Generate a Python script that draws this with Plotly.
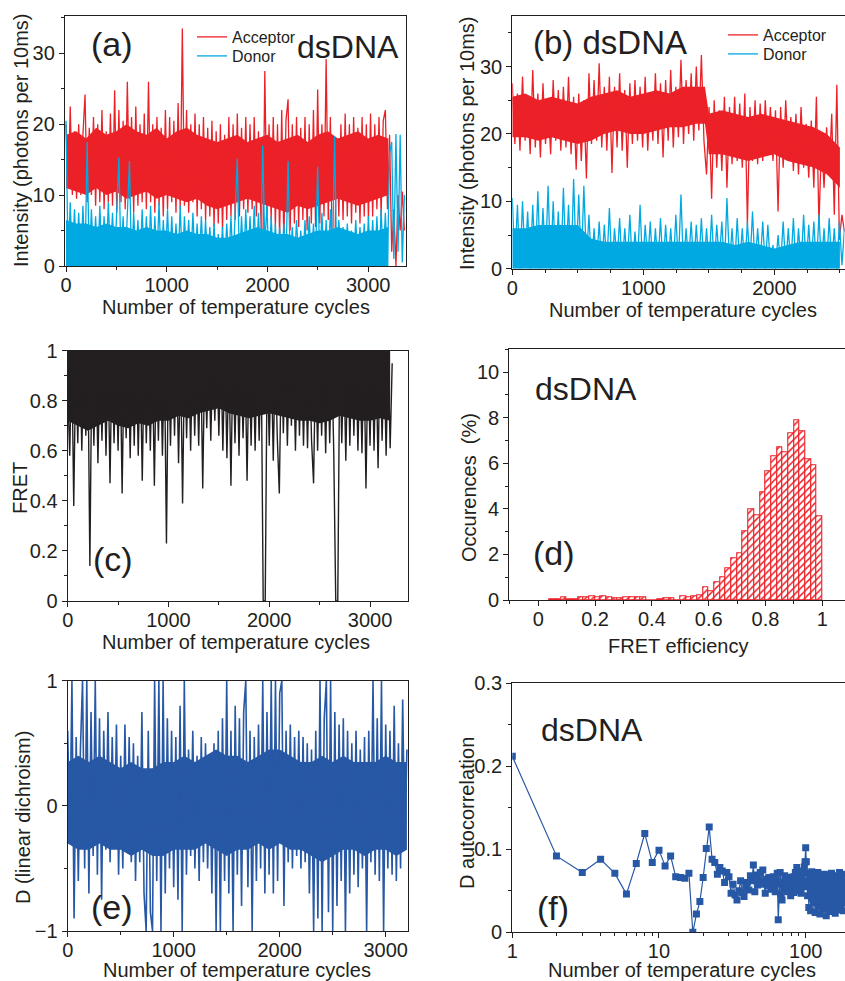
import numpy as np
import plotly.graph_objects as go

# (a) dsDNA intensity traces, one value every 21 cycles
step_a = 21
acceptor_a = [20, 11, 22.5, 10, 19, 9.5, 20, 10, 18.5, 24.2, 9, 19.5, 10, 21, 8.5, 20, 9, 22, 8, 19,
              9, 21.5, 8.5, 24.8, 7.5, 22, 9, 20.5, 8, 26, 9.5, 21, 7.5, 22.5, 8.5, 20, 9, 21.5, 8, 26,
              9, 20, 7.5, 21, 8.5, 19.5, 7, 22, 8, 21, 9, 20.5, 7.5, 23, 8, 33.5, 8.5, 22, 7.5, 20,
              9, 21.5, 7, 20, 8, 21, 6.5, 19.5, 7, 20.5, 5.5, 19, 6, 20, 5, 18.5, 6.5, 21, 7, 20,
              6.5, 21.5, 7, 19.5, 8, 21, 7.5, 20, 8, 21, 7, 19, 8, 0, 27.5, 7, 20, 6.5, 21, 5.5,
              20, 4, 22, 3, 20.5, 23.5, 5, 20, 6, 21, 5.5, 19.5, 6.5, 21, 5, 20, 6, 22, 5.5, 24.9,
              6, 20, 7, 29.2, 6.5, 21, 0, 0, 18, 7, 20, 6.5, 21.5, 7, 20, 6, 21, 7.5, 19.5, 6,
              21, 7, 20, 6.5, 21.5, 7, 20, 8, 21, 7, 20.5, 22, 8, 18.5, 2, 8, 0, 10, 5, 10.5, 5]
donor_a = [20.5, 0.5, 9, 0, 8, 1, 7.5, 0, 8.5, 0.5, 17.5, 0, 8, 1, 7, 0, 8.5, 0.5, 7, 0,
           9, 1.5, 7.5, 0, 8, 15.3, 0.5, 7, 0, 8, 14.8, 0, 7.5, 1, 6.5, 0, 8, 0.5, 7, 0,
           8.5, 0, 7, 1, 9, 0, 6.5, 0.5, 8, 0, 7, 0.5, 6, 0, 8.5, 0, 7, 1, 6.5, 0,
           7.5, 0.5, 6, 0, 7, 0.5, 6.5, 0, 5.5, 0.5, 6, 0, 4.5, 0.5, 5.5, 0, 6, 0.5, 7, 0,
           6.5, 15.2, 0, 7, 0.5, 8, 0, 7, 0.5, 8.5, 0, 7.5, 0.5, 17, 3, 8.5, 0, 7, 0.5, 6,
           0, 5.5, 0.5, 6, 0, 14.8, 0.5, 5.5, 0, 6.5, 0.5, 5, 0, 6.5, 0.5, 7, 0, 6, 0.5, 14,
           0, 7.5, 0.5, 6.5, 0, 8, 0.5, 18.3, 0, 6.5, 0.5, 5.5, 0, 6, 0.5, 5, 0, 6.5, 0.5, 5.5,
           0, 6, 0.5, 7, 0, 6.5, 0.5, 7, 0, 8, 0.5, 7.5, 0, 15.8, 17.5, 1, 18.6, 2, 18.5, 0.5, 10]
# dense core of the (a) traces, read every 100 cycles
core_x_a = list(range(0, 3201, 100))
acceptor_core_hi_a = [18.5, 19, 18, 19.5, 18.5, 19, 20, 19, 18.5, 19.5, 18, 19, 19.5, 18.5, 18, 17.5, 18,
                      18.5, 17.5, 18, 18.5, 17.5, 18, 18.5, 17.5, 18.5, 19, 18, 18.5, 19, 18, 18.5, 18]
acceptor_core_lo_a = [11, 10.5, 10, 11, 10, 10.5, 9.5, 10, 10.5, 9.5, 10, 9.5, 9, 9.5, 8.5, 8, 8.5,
                      9, 9.5, 9, 8.5, 8, 7.5, 8.5, 8, 8.5, 9, 9.5, 9, 8.5, 9, 9.5, 10]
donor_core_a = [6.5, 6, 6, 5.5, 6, 5.5, 5.5, 5, 5.5, 5, 5, 4.5, 5, 4.5, 4.5, 4, 4,
                4.5, 5, 5.5, 5, 4.5, 4.5, 4, 4.5, 5, 5, 5.5, 5, 4.5, 5, 5, 5.5]

# (b) dsDNA intensity traces, one value every 19.5 cycles
step_b = 19.5
acceptor_b = [27.5, 18.5, 26, 17.5, 28.5, 19, 25.5, 17, 29.5, 18, 26, 16.5, 27.5, 18.5, 25, 17, 28, 19, 26.5, 17.5,
              27, 18, 28.5, 17, 25.5, 14.7, 26, 16, 25, 13.4, 29, 18.5, 28, 19, 30.5, 18, 27, 17.5, 28.5, 14.2,
              27, 18, 29, 17.5, 26.5, 15, 27.5, 18.5, 28, 19, 27, 18, 28.5, 17.5, 26, 19, 29, 18.5, 27.5, 16.5,
              28, 19, 29.5, 18, 27, 19.5, 31, 18.5, 28, 20, 29, 19, 30, 20.5, 31.7, 19, 14, 24, 10.4, 25,
              15, 23.5, 14.5, 25.5, 12, 24, 15.5, 25.5, 16, 24.5, 15, 26, 6.5, 24, 16, 25, 15.5, 24.5, 16, 25,
              17, 24, 16, 23.5, 8.5, 24, 15, 25, 16.5, 22.5, 14.5, 23, 14, 24, 15, 21.5, 13.5, 22, 12, 25.5,
              6.5, 19, 12, 21, 14, 23, 8, 27.3, 4.3, 8, 5.5]
donor_b = [10.5, 0.5, 9.5, 0, 10, 1, 8.5, 0, 9.5, 0.5, 11.5, 0, 9, 1, 12.3, 0, 10, 0.5, 8.5, 0,
           12, 1, 9.5, 0, 13.3, 0.5, 11, 0, 12.3, 1, 8, 0, 6, 0.5, 7, 0, 6.5, 0.5, 9, 0,
           6, 1, 7.5, 0, 6, 0.5, 8, 0, 5.5, 0.5, 9.5, 0, 6.5, 1, 7, 0, 6, 0.5, 7.5, 0,
           6.5, 0.5, 6, 0, 8, 0.5, 11, 0, 6, 1, 7, 0, 6.5, 0.5, 7.5, 0, 6, 0.5, 8, 0,
           6.5, 1, 7, 0, 10.5, 0.5, 6, 0, 7.5, 0.5, 6, 0, 7, 0.5, 8.5, 0, 6, 0.5, 7, 0,
           6.5, 0.5, 3.5, 0, 5, 0.5, 7, 0, 6, 0.5, 7.5, 0, 6, 0.5, 8, 0, 6.5, 0.5, 7, 0,
           8, 0.5, 6, 0, 7.5, 0.5, 6, 0, 7, 0.5, 6]
core_x_b = list(range(0, 1401, 100)) + [1470] + list(range(1500, 2501, 100))
acceptor_core_hi_b = [25.5, 26, 25, 25.5, 25, 24.5, 25.5, 26, 26.5, 25.5, 26, 26.5, 26, 27, 27, 27,
                      23, 23.5, 23, 22.5, 23, 22.5, 22, 21.5, 21, 20, 18]
acceptor_core_lo_b = [19.5, 19.5, 19, 19.5, 19, 18.5, 19, 20, 20.5, 20, 20, 20.5, 21, 21, 21.5, 21.5,
                      17, 17, 16.5, 16, 16.5, 17, 16, 15.5, 15, 14, 12]
donor_core_b = [6, 6, 6.5, 6.5, 6.5, 6.5, 4.5, 4, 4, 4, 4, 4, 4, 4, 4, 4,
                4, 4, 3.5, 4, 3.5, 3, 3.5, 4, 4, 4, 4]

# (c) FRET trace, one value every 20 cycles
step_c = 20
fret_c = [0.85, 0.58, 1.0, 0.38, 0.97, 0.63, 1.0, 0.6, 0.99, 0.66, 1.0, 0.14, 0.98, 0.62, 1.0, 0.55, 0.96, 0.64, 1.0, 0.58,
          0.99, 0.47, 1.0, 0.63, 0.97, 0.6, 1.0, 0.43, 0.98, 0.65, 1.0, 0.57, 0.99, 0.62, 1.0, 0.58, 0.97, 0.48, 1.0, 0.63,
          0.98, 0.6, 1.0, 0.46, 0.99, 0.64, 1.0, 0.58, 0.98, 0.23, 1.0, 0.62, 0.99, 0.66, 1.0, 0.55, 0.98, 0.39, 1.0, 0.65,
          0.99, 0.6, 1.0, 0.66, 0.97, 0.62, 1.0, 0.45, 0.99, 0.69, 1.0, 0.64, 0.98, 0.72, 1.0, 0.66, 0.99, 0.6, 1.0, 0.57,
          0.98, 0.46, 1.0, 0.63, 0.99, 0.58, 1.0, 0.65, 0.97, 0.48, 1.0, 0.62, 0.99, 0.6, 1.0, 0.64, 0.99, 0.0, 0.0, 1.0,
          0.62, 0.98, 0.56, 1.0, 0.65, 0.43, 0.99, 0.67, 1.0, 0.62, 0.97, 0.7, 1.0, 0.6, 0.99, 0.66, 1.0, 0.62, 0.98, 0.61,
          1.0, 0.64, 0.47, 0.99, 0.6, 1.0, 0.66, 0.97, 0.59, 1.0, 0.63, 0.99, 0.6, 0.0, 0.0, 1.0, 0.63, 0.98, 0.56, 1.0,
          0.62, 0.99, 0.66, 1.0, 0.6, 0.97, 0.59, 1.0, 0.45, 0.98, 0.62, 1.0, 0.6, 0.99, 0.53, 1.0, 0.64, 0.98, 0.58, 1.0,
          0.61, 0.95]
core_x_c = list(range(0, 3201, 100))
fret_core_hi = [1.0] * 33
fret_core_lo = [0.72, 0.7, 0.68, 0.7, 0.72, 0.7, 0.69, 0.71, 0.7, 0.72, 0.72, 0.74, 0.73, 0.75, 0.76, 0.77, 0.75,
                0.74, 0.73, 0.74, 0.75, 0.74, 0.73, 0.72, 0.72, 0.71, 0.72, 0.74, 0.73, 0.72, 0.72, 0.73, 0.72]

# (d) FRET efficiency histogram, 0.02 wide bins starting at 0.04
bin_width = 0.02
bin_left = [round(0.04 + bin_width * i, 2) for i in range(48)]
occurences = [0.05, 0.05, 0.10, 0.05, 0.05, 0.10, 0.10, 0.15, 0.10, 0.15, 0.10, 0.08, 0.08, 0.13, 0.10, 0.10,
              0.10, 0.0, 0.0, 0.05, 0.08, 0.08, 0.0, 0.18, 0.12, 0.18, 0.22,
              0.56, 0.40, 0.78, 1.00, 1.38, 1.85, 2.05, 3.00, 3.97, 3.70, 4.72, 5.63, 6.30, 6.70, 6.50, 7.32,
              7.90, 7.40, 6.18, 5.90, 3.68]

# (e) linear dichroism trace, one value every 20 cycles
step_e = 20
dichroism_e = [0.6, -0.3, 1.0, -0.9, 0.55, -0.6, 0.45, 1.0, -0.5, 1.0, -0.7, 0.75, -0.4, 1.0, -0.55, 0.7, -0.75, 0.6, -0.35, 0.75,
               -0.45, 0.55, -0.3, 0.65, -0.55, 0.4, -0.5, 0.65, -0.35, 0.55, -0.45, 0.5, -0.6, 0.4, -0.45, 0.75, -0.7, -1.0, 0.6, -0.85,
               -1.0, 1.0, -0.6, 1.0, -1.0, 1.0, -0.7, 0.7, -0.5, 0.6, -0.65, 0.55, -0.75, 0.8, -1.0, 1.0, -0.55, 0.45, -0.4, 0.6,
               -0.5, 0.4, -0.6, 0.55, -0.45, 0.5, -0.5, 0.4, -0.7, 0.5, -1.0, 0.6, -1.0, 0.7, -0.6, 1.0, -0.7, 0.6, -1.0, 0.8,
               -0.55, 0.7, -0.8, 0.75, 1.0, -0.65, 0.6, -1.0, 0.55, -0.6, 0.65, -0.5, 1.0, -0.7, 0.75, -0.55, 1.0, -0.7, 1.0, -0.6,
               0.9, 1.0, -0.8, 0.6, -0.45, 0.65, -0.5, 0.55, -0.4, 0.6, -0.5, 0.55, -0.45, 0.5, -0.7, 0.45, -1.0, 0.6, -0.9, 1.0,
               -1.0, 0.7, 1.0, -0.85, 1.0, -1.0, 0.75, -0.8, 0.65, -0.6, 0.7, -1.0, 0.6, -0.7, 0.5, -0.55, 0.6, -0.65, 0.45, -0.5,
               0.55, -1.0, 0.6, -0.45, 1.0, -0.55, 0.7, -0.6, 1.0, -1.0, 0.65, -0.5, 0.6, -0.55, 0.8, -0.6, 0.5, -0.5, 0.85, -0.35,
               0.45]
core_x_e = list(range(0, 3201, 100))
dichroism_core_hi = [0.35, 0.4, 0.35, 0.4, 0.35, 0.3, 0.35, 0.3, 0.3, 0.35, 0.35, 0.4, 0.35, 0.4, 0.45, 0.4, 0.4,
                     0.35, 0.4, 0.45, 0.45, 0.4, 0.35, 0.35, 0.4, 0.35, 0.4, 0.35, 0.35, 0.35, 0.4, 0.35, 0.35]
dichroism_core_lo = [-0.3, -0.35, -0.35, -0.3, -0.35, -0.35, -0.4, -0.35, -0.4, -0.4, -0.35, -0.35, -0.35, -0.3,
                     -0.35, -0.4, -0.35, -0.35, -0.3, -0.35, -0.3, -0.35, -0.35, -0.4, -0.45, -0.4, -0.35, -0.35,
                     -0.4, -0.35, -0.35, -0.4, -0.35]

# (f) autocorrelation of D vs lag (lag = 1, 2, 3, ...)
autocorr = [0.212, 0.092, 0.072, 0.088, 0.071, 0.046, 0.083, 0.119, 0.084, 0.099, 0.080, 0.092, 0.067, 0.066, 0.065,
            0.071, 0.000, 0.022, 0.037, 0.066, 0.101, 0.127, 0.088, 0.084, 0.070, 0.078, 0.074, 0.060, 0.072, 0.067,
            0.047, 0.058, 0.045, 0.039, 0.050,
            0.062, 0.048, 0.043, 0.055, 0.060, 0.051, 0.068, 0.062, 0.081, 0.049, 0.069, 0.057, 0.063, 0.072, 0.061,
            0.075, 0.058, 0.047, 0.064, 0.056, 0.066, 0.059, 0.052, 0.061, 0.067,
            0.055, 0.049, 0.063, 0.071, 0.015, 0.058, 0.072, 0.046, 0.039, 0.060, 0.054, 0.068, 0.049, 0.062, 0.057,
            0.066, 0.051, 0.059, 0.044, 0.063,
            0.055, 0.067, 0.048, 0.061, 0.072, 0.050, 0.078, 0.058, 0.065, 0.070, 0.053, 0.074, 0.047, 0.066, 0.060,
            0.072, 0.055, 0.079, 0.085, 0.102,
            0.085, 0.062, 0.044, 0.071, 0.030, 0.058, 0.067, 0.026, 0.053, 0.073, 0.041, 0.062, 0.035, 0.070, 0.048,
            0.024, 0.059, 0.066, 0.039, 0.052, 0.072, 0.031, 0.046, 0.061, 0.022, 0.055, 0.068, 0.037, 0.050, 0.064,
            0.028, 0.057, 0.045, 0.070, 0.033, 0.062, 0.049, 0.020, 0.058, 0.066, 0.040, 0.053, 0.031, 0.069, 0.047,
            0.025, 0.060, 0.055, 0.036, 0.071, 0.043, 0.057, 0.029, 0.064, 0.050, 0.038, 0.067, 0.046, 0.023, 0.061,
            0.052, 0.034, 0.068, 0.045, 0.058, 0.027, 0.063, 0.049, 0.039, 0.072, 0.054, 0.030, 0.060, 0.047, 0.066,
            0.035, 0.056, 0.042, 0.070, 0.051, 0.026, 0.061, 0.044, 0.057, 0.038]
lags = list(range(1, len(autocorr) + 1))

W, H = 845, 981
RED = '#ec2128'
CYAN = '#00a9e2'
BLUE = '#2758a5'
INK = '#231f20'
FONT = 'Liberation Sans, Arial, Helvetica, sans-serif'
LW = 1.3


def dom_x(a, b):
    return [a / W, min(b / W, 1)]


def dom_y(top, bottom):
    return [1 - bottom / H, 1 - top / H]


def axname(p, i):
    return f'{p}axis' if i == 1 else f'{p}axis{i}'


def axref(p, i):
    return p if i == 1 else f'{p}{i}'


fig = go.Figure()


def band(x, lo, hi, color, xa, ya):
    # solid core of a dense trace
    if lo is None:
        fig.add_trace(go.Scatter(x=x, y=hi, mode='lines', line=dict(width=0, color=color), fill='tozeroy',
                                 fillcolor=color, showlegend=False, hoverinfo='skip', xaxis=xa, yaxis=ya))
        return
    fig.add_trace(go.Scatter(x=x, y=lo, mode='lines', line=dict(width=0, color=color), showlegend=False,
                             hoverinfo='skip', xaxis=xa, yaxis=ya))
    fig.add_trace(go.Scatter(x=x, y=hi, mode='lines', line=dict(width=0, color=color), fill='tonexty',
                             fillcolor=color, showlegend=False, hoverinfo='skip', xaxis=xa, yaxis=ya))


#TRACES
band(core_x_a, acceptor_core_lo_a, acceptor_core_hi_a, RED, 'x', 'y')
fig.add_trace(go.Scatter(x=np.arange(len(acceptor_a)) * step_a, y=acceptor_a, mode='lines', name='Acceptor',
                         line=dict(color=RED, width=LW), xaxis='x', yaxis='y', legend='legend'))
band(core_x_a, None, donor_core_a, CYAN, 'x', 'y')
fig.add_trace(go.Scatter(x=np.arange(len(donor_a)) * step_a, y=donor_a, mode='lines', name='Donor',
                         line=dict(color=CYAN, width=LW), xaxis='x', yaxis='y', legend='legend3'))
band(core_x_b, acceptor_core_lo_b, acceptor_core_hi_b, RED, 'x2', 'y2')
fig.add_trace(go.Scatter(x=np.arange(len(acceptor_b)) * step_b, y=acceptor_b, mode='lines', name='Acceptor',
                         line=dict(color=RED, width=LW), xaxis='x2', yaxis='y2', legend='legend2'))
band(core_x_b, None, donor_core_b, CYAN, 'x2', 'y2')
fig.add_trace(go.Scatter(x=np.arange(len(donor_b)) * step_b, y=donor_b, mode='lines', name='Donor',
                         line=dict(color=CYAN, width=LW), xaxis='x2', yaxis='y2', legend='legend4'))
band(core_x_c, fret_core_lo, fret_core_hi, INK, 'x3', 'y3')
fig.add_trace(go.Scatter(x=np.arange(len(fret_c)) * step_c, y=fret_c, mode='lines', showlegend=False,
                         line=dict(color=INK, width=1.4), xaxis='x3', yaxis='y3'))
fig.add_trace(go.Bar(x=bin_left, y=occurences, width=bin_width, offset=0, showlegend=False,
                     marker=dict(color='white', line=dict(color=RED, width=1.1),
                                 pattern=dict(shape='/', fgcolor=RED, bgcolor='white', size=5, solidity=0.3)),
                     xaxis='x4', yaxis='y4'))
band(core_x_e, dichroism_core_lo, dichroism_core_hi, BLUE, 'x5', 'y5')
fig.add_trace(go.Scatter(x=np.arange(len(dichroism_e)) * step_e, y=dichroism_e, mode='lines', showlegend=False,
                         line=dict(color=BLUE, width=1.6), xaxis='x5', yaxis='y5'))
fig.add_trace(go.Scatter(x=lags, y=autocorr, mode='lines+markers', showlegend=False,
                         line=dict(color=BLUE, width=1.2), marker=dict(symbol='square', size=7, color=BLUE),
                         xaxis='x6', yaxis='y6'))

#AXES
panels = {
    1: dict(xd=dom_x(65, 406), yd=dom_y(16, 266), xr=[-10, 3376], yr=[0, 35.26], xdt=1000, xm=500, ydt=10, ym=5),
    2: dict(xd=dom_x(512.3, 844.5), yd=dom_y(16, 268.7), xr=[0, 2535], yr=[0, 37.5], xdt=1000, xm=250, ydt=10, ym=5),
    3: dict(xd=dom_x(67.7, 408.3), yd=dom_y(350.7, 601), xr=[0, 3380], yr=[0, 1], xdt=1000, xm=500, ydt=0.2, ym=0.1),
    4: dict(xd=dom_x(509.3, 845), yd=dom_y(349.3, 600), xr=[-0.102, 1.08], yr=[0, 11], xdt=0.2, xm=0.1, ydt=2, ym=1),
    5: dict(xd=dom_x(67.7, 408.3), yd=dom_y(680.7, 931), xr=[0, 3213], yr=[-1, 1], xdt=1000, xm=500, ydt=1, ym=0.5),
    6: dict(xd=dom_x(512.3, 845), yd=dom_y(683.3, 932.3), xr=[0, 2.268], yr=[0, 0.3], xdt=1, xm='D1', ydt=0.1, ym=0.05),
}

layout = dict(template='none', width=W, height=H, margin=dict(l=0, r=0, t=0, b=0, autoexpand=False),
              plot_bgcolor='white', paper_bgcolor='white',
              font=dict(family=FONT, color=INK, size=19), bargap=0)
tickfont = dict(family=FONT, size=20, color=INK)
for i, p in panels.items():
    xtype = 'log' if i == 6 else 'linear'
    common_x = dict(range=p['xr'], type=xtype, dtick=p['xdt'], showgrid=False, zeroline=False, automargin=False,
                    ticklen=5, tickcolor=INK, tickwidth=1, minor=dict(dtick=p['xm'], ticklen=3, tickcolor=INK))
    common_y = dict(range=p['yr'], dtick=p['ydt'], showgrid=False, zeroline=False, automargin=False,
                    ticklen=5, tickcolor=INK, tickwidth=1, minor=dict(dtick=p['ym'], ticklen=3, tickcolor=INK))
    if xtype == 'linear':
        common_x['tick0'] = 0
    common_y['tick0'] = 0
    layout[axname('x', i)] = dict(common_x, domain=p['xd'], anchor=axref('y', i), ticks='outside',
                                  showline=True, linecolor=INK, linewidth=1.3, mirror=True, tickfont=tickfont,
                                  ticklabelstandoff=-4, minor=dict(common_x['minor'], ticks='outside'))
    layout[axname('y', i)] = dict(common_y, domain=p['yd'], anchor=axref('x', i), ticks='outside',
                                  showline=True, linecolor=INK, linewidth=1.3, mirror=True, tickfont=tickfont,
                                  minor=dict(common_y['minor'], ticks='outside'))
    # inward ticks on the top and right edges
    j = i + 6
    layout[axname('x', j)] = dict(common_x, overlaying=axref('x', i), anchor=axref('y', i), side='top',
                                  ticks='inside', showticklabels=False, showline=False,
                                  minor=dict(common_x['minor'], ticks='inside'))
    layout[axname('y', j)] = dict(common_y, overlaying=axref('y', i), anchor=axref('x', i), side='right',
                                  ticks='inside', showticklabels=False, showline=False,
                                  minor=dict(common_y['minor'], ticks='inside'))

layout['xaxis6']['tickvals'] = [1, 10, 100]
layout['xaxis6']['ticktext'] = ['1', '10', '100']

#LEGENDS (one entry each so the rows sit where the reference has them)
leg = dict(xanchor='left', yanchor='top', font=dict(family=FONT, size=16, color=INK),
           bgcolor='rgba(0,0,0,0)', tracegroupgap=0, itemwidth=30, borderwidth=0)
layout['legend'] = dict(leg, x=192 / W, y=1 - 20 / H)
layout['legend3'] = dict(leg, x=192 / W, y=1 - 39 / H)
layout['legend2'] = dict(leg, x=723 / W, y=1 - 18 / H)
layout['legend4'] = dict(leg, x=723 / W, y=1 - 37 / H)

#TEXT
def txt(s, x, y, size=20, angle=0):
    return dict(text=s, x=x / W, y=1 - y / H, xref='paper', yref='paper', showarrow=False,
                xanchor='center', yanchor='middle', textangle=angle,
                font=dict(family=FONT, size=size, color=INK))

cyc = 'Number of temperature cycles'
layout['annotations'] = [
    txt(cyc, 236, 307), txt('Intensity (photons per 10ms)', 21, 141, angle=-90),
    txt(cyc, 683, 310), txt('Intensity (photons per 10ms)', 467, 143, angle=-90),
    txt(cyc, 236, 642), txt('FRET', 20, 488, angle=-90),
    txt('FRET efficiency', 678, 646), txt('Occurences  (%)', 469, 488, angle=-90),
    txt(cyc, 237, 970), txt('D (linear dichroism)', 23, 818, angle=-90),
    txt(cyc, 682, 970), txt('D autocorrelation', 467, 813, angle=-90),
    txt('(a)', 112, 44, 34), txt('dsDNA', 348, 47, 32),
    txt('(b) dsDNA', 610, 42, 33),
    txt('(c)', 113, 559, 34),
    txt('dsDNA', 586, 389, 32), txt('(d)', 554, 553, 34),
    txt('(e)', 112, 907, 34),
    txt('dsDNA', 592, 730, 32), txt('(f)', 553, 908, 34),
]

fig.update_layout(layout)
# the page's default body margin would shift the figure by 8 px
fig.write_html("out.html", config={'displayModeBar': False},
               post_script="document.body.style.margin='0px';")
